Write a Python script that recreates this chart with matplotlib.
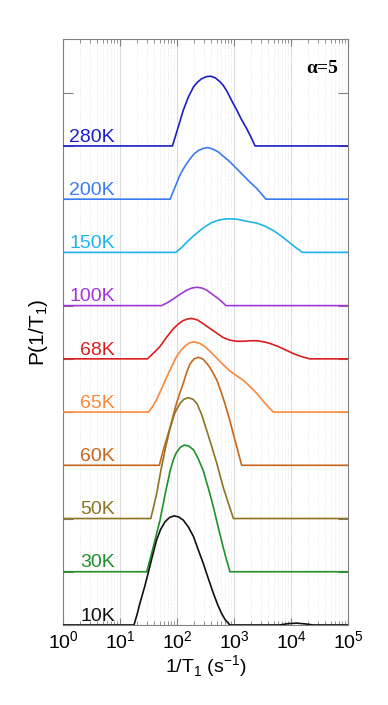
import matplotlib.pyplot as plt
from matplotlib.ticker import LogLocator, NullFormatter
import numpy as np

plt.rcParams['font.family'] = ['Liberation Sans', 'DejaVu Sans']
plt.rcParams['mathtext.fontset'] = 'custom'
plt.rcParams['mathtext.rm'] = 'Liberation Sans'

# curves: log10(1/T1) and height above baseline
temps = ['280K', '200K', '150K', '100K', '68K', '65K', '60K', '50K', '30K', '10K']
colors = ['#1c1cc8', '#3a7cf0', '#1eb4ec', '#a236dc', '#dc1e1e',
          '#f8883a', '#c8661c', '#8c7424', '#1e9028', '#101010']

lx_280 = [0, 1.92, 2.00, 2.11, 2.20, 2.29, 2.36, 2.43, 2.51, 2.59, 2.67, 2.75, 2.81,
          2.88, 2.96, 3.05, 3.13, 3.22, 3.30, 3.37, 5]
p_280 = [0, 0, 0.28, 0.67, 0.92, 1.11, 1.20, 1.26, 1.30, 1.31, 1.28, 1.21, 1.14,
         1.02, 0.85, 0.67, 0.50, 0.33, 0.16, 0, 0]

lx_200 = [0, 1.88, 1.97, 2.05, 2.14, 2.23, 2.30, 2.37, 2.45, 2.54, 2.63, 2.72, 2.82,
          2.93, 3.05, 3.16, 3.28, 3.40, 3.48, 3.56, 5]
p_200 = [0, 0, 0.24, 0.45, 0.62, 0.76, 0.85, 0.91, 0.95, 0.97, 0.94, 0.89, 0.80,
         0.70, 0.57, 0.45, 0.32, 0.20, 0.10, 0, 0]

lx_150 = [0, 1.98, 2.08, 2.17, 2.28, 2.40, 2.50, 2.61, 2.74, 2.87, 3.00, 3.11, 3.25,
          3.40, 3.55, 3.69, 3.80, 3.92, 4.06, 4.20, 5]
p_150 = [0, 0, 0.09, 0.19, 0.30, 0.41, 0.49, 0.56, 0.61, 0.63, 0.63, 0.61, 0.58,
         0.55, 0.49, 0.41, 0.33, 0.23, 0.11, 0, 0]

lx_100 = [0, 1.73, 1.84, 1.94, 2.05, 2.17, 2.26, 2.35, 2.44, 2.52, 2.61, 2.70, 2.78, 2.86, 5]
p_100 = [0, 0, 0.06, 0.13, 0.21, 0.29, 0.33, 0.345, 0.33, 0.29, 0.22, 0.15, 0.08, 0, 0]

lx_68 = [0, 1.48, 1.60, 1.70, 1.82, 1.94, 2.03, 2.11, 2.19, 2.26, 2.36, 2.46, 2.58,
         2.70, 2.81, 2.93, 3.05, 3.16, 3.28, 3.40, 3.52, 3.63, 3.78, 3.92, 4.04, 4.16,
         4.33, 5]
p_68 = [0, 0, 0.12, 0.23, 0.41, 0.57, 0.66, 0.72, 0.75, 0.76, 0.73, 0.66, 0.57,
        0.48, 0.40, 0.35, 0.33, 0.33, 0.34, 0.34, 0.32, 0.29, 0.23, 0.16, 0.10, 0.05,
        0, 0]

lx_65 = [0, 1.50, 1.57, 1.64, 1.73, 1.82, 1.91, 1.99, 2.07, 2.14, 2.22, 2.30, 2.40,
         2.49, 2.60, 2.70, 2.82, 2.93, 3.05, 3.16, 3.28, 3.40, 3.50, 3.60, 3.69, 5]
p_65 = [0, 0, 0.10, 0.23, 0.44, 0.66, 0.86, 1.04, 1.16, 1.24, 1.30, 1.32, 1.29,
        1.23, 1.12, 1.01, 0.88, 0.77, 0.68, 0.60, 0.48, 0.35, 0.22, 0.10, 0, 0]

lx_60 = [0, 1.69, 1.76, 1.88, 1.99, 2.05, 2.11, 2.17, 2.23, 2.30, 2.38, 2.46, 2.55,
         2.62, 2.70, 2.77, 2.84, 2.92, 2.99, 3.06, 3.135, 5]
p_60 = [0, 0, 0.29, 0.72, 1.16, 1.36, 1.54, 1.75, 1.91, 2.00, 2.03, 1.99, 1.88,
        1.76, 1.60, 1.39, 1.16, 0.87, 0.58, 0.30, 0, 0]

lx_50 = [0, 1.54, 1.64, 1.72, 1.80, 1.88, 1.96, 2.05, 2.12, 2.20, 2.28, 2.35, 2.43,
         2.52, 2.61, 2.70, 2.81, 2.90, 2.99, 5]
p_50 = [0, 0, 0.45, 0.92, 1.34, 1.70, 1.98, 2.16, 2.24, 2.27, 2.24, 2.16, 1.96,
        1.66, 1.35, 1.03, 0.59, 0.29, 0, 0]

lx_30 = [0, 1.47, 1.58, 1.70, 1.79, 1.88, 1.94, 1.99, 2.06, 2.13, 2.21, 2.29, 2.37,
         2.46, 2.55, 2.64, 2.72, 2.81, 2.87, 2.93, 5]
p_30 = [0, 0, 0.45, 0.96, 1.45, 1.90, 2.12, 2.24, 2.34, 2.38, 2.36, 2.29, 2.13,
        1.90, 1.57, 1.21, 0.85, 0.46, 0.22, 0, 0]

lx_10 = [0, 1.245, 1.30, 1.35, 1.43, 1.50, 1.57, 1.64, 1.71, 1.79, 1.87, 1.95, 2.03,
         2.11, 2.20, 2.29, 2.37, 2.46, 2.55, 2.64, 2.71, 2.78, 2.85, 2.93,
         3.80, 3.95, 4.10, 4.25, 4.39, 5]
p_10 = [0, 0, 0.20, 0.41, 0.71, 1.00, 1.30, 1.59, 1.79, 1.94, 2.02, 2.05, 2.03,
        1.97, 1.84, 1.66, 1.42, 1.16, 0.87, 0.59, 0.39, 0.22, 0.09, 0,
        0, 0.025, 0.035, 0.02, 0, 0]

lxs = [lx_280, lx_200, lx_150, lx_100, lx_68, lx_65, lx_60, lx_50, lx_30, lx_10]
ps = [p_280, p_200, p_150, p_100, p_68, p_65, p_60, p_50, p_30, p_10]
offsets = [9, 8, 7, 6, 5, 4, 3, 2, 1, 0]

fig = plt.figure(figsize=(3.88, 7.05), dpi=100)
ax = fig.add_axes([0.1624, 0.1135, 0.7345, 0.8305])

for t, c, lx, p, off in zip(temps, colors, lxs, ps, offsets):
    ax.plot(10 ** np.array(lx), np.array(p) + off, color=c, lw=1.2, zorder=3,
            solid_joinstyle='round')
    ax.text(8.1, off + 0.08, t, color=c, ha='right', va='baseline', fontsize=14)

ax.set_xscale('log')
ax.set_xlim(1, 1e5)
ax.set_ylim(0, 11)
ax.xaxis.set_major_locator(LogLocator(base=10, numticks=10))
ax.xaxis.set_minor_locator(LogLocator(base=10, subs=np.arange(2, 10), numticks=20))
ax.xaxis.set_minor_formatter(NullFormatter())
ax.set_yticks(range(0, 11))
ax.set_yticklabels([])
ax.tick_params(axis='both', which='both', direction='in', top=True, right=True,
               color='#808080')
ax.tick_params(axis='x', which='major', length=5, labelsize=14, pad=4)
ax.tick_params(axis='x', which='minor', length=3)
ax.tick_params(axis='y', which='major', length=7)
ax.grid(axis='x', which='major', color='#dcdcdc', lw=0.8, zorder=0)
ax.grid(axis='x', which='minor', color='#e4e4e4', lw=0.6, ls=':', zorder=0)
for s in ax.spines.values():
    s.set_color('#808080')

ax.set_xlabel('1/T$_\\mathregular{1}$ (s$^\\mathregular{-1}$)', fontsize=14, labelpad=1)
ax.set_ylabel('P(1/T$_\\mathregular{1}$)', fontsize=15, labelpad=6)
ax.text(0.965, 0.965, '\u03b1=5', transform=ax.transAxes, ha='right', va='top',
        fontsize=14, family='Liberation Serif', fontweight='bold')

fig.savefig('out.png', dpi=100)
